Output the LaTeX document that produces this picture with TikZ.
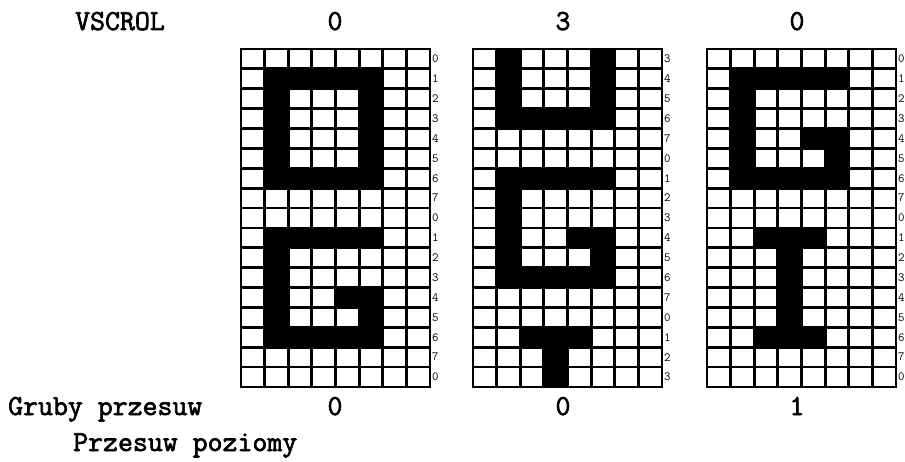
\documentclass[tikz,border=0pt]{standalone}
\usepackage{fontspec}
\newfontfamily\courb[FakeBold=2.2]{Latin Modern Mono}
\usetikzlibrary{positioning}
\def\cw{23.625}
\def\ch{19.88}
\def\gtop{49}
% one 8x17 pixel grid: #1 left edge, #2 row numbers, #3 black runs a/b/c/d
\newcommand{\pixgrid}[4]{%
  \fill (#1-1.2,\gtop-1.2) rectangle ({#1+8*\cw+1.2},{\gtop+17*\ch+1.2});
  \foreach \c in {0,...,7}
    \foreach \r in {0,...,16}
      \fill[white] ({#1+\c*\cw+1.4},{\gtop+\r*\ch+1.4}) rectangle ({#1+(\c+1)*\cw-1.4},{\gtop+(\r+1)*\ch-1.4});
  \foreach \a/\b/\cc/\d in {#3}
    \fill ({#1+\a*\cw},{\gtop+\b*\ch}) rectangle ({#1+(\cc+1)*\cw},{\gtop+(\d+1)*\ch});
  \foreach \l [count=\r from 0] in {#2}
    \node[rowlbl] (#4r\r) at ({#1+8*\cw+2},{\gtop+(\r+0.5)*\ch}) {\l};
}

\begin{document}
\begin{tikzpicture}[x=1pt,y=-1pt,
  bigtext/.style={font=\courb\fontsize{29}{29}\selectfont,inner sep=0pt},
  rowlbl/.style={font=\ttfamily\fontsize{12.5}{12.5}\selectfont,inner sep=0pt,anchor=west}]
\useasboundingbox (0,0) rectangle (905,462);

\pixgrid{241}{0,1,2,3,4,5,6,7,0,1,2,3,4,5,6,7,0}
  {1/1/5/1,1/2/1/5,5/2/5/5,1/6/5/6,1/9/5/9,1/10/1/14,2/14/5/14,4/12/5/12,5/13/5/13}{ga}
\pixgrid{473}{3,4,5,6,7,0,1,2,3,4,5,6,7,0,1,2,3}
  {1/0/1/3,5/0/5/3,2/3/4/3,1/6/5/6,1/7/1/11,2/11/5/11,4/9/5/9,5/10/5/10,2/14/4/14,3/15/3/16}{gb}
\pixgrid{707}{0,1,2,3,4,5,6,7,0,1,2,3,4,5,6,7,0}
  {1/1/5/1,1/2/1/6,2/6/5/6,4/4/5/4,5/5/5/5,2/9/4/9,3/10/3/13,2/14/4/14}{gc}

% top row
\node[bigtext,anchor=base west] (vscrol) at (75,30) {VSCROL};
\node[bigtext,anchor=base] (vsa) at (335,30) {0};
\node[bigtext,anchor=base] (vsb) at (563,30) {3};
\node[bigtext,anchor=base] (vsc) at (797,30) {0};

% bottom rows
\node[bigtext,anchor=base west] (gruby) at (8,415) {Gruby przesuw};
\node[bigtext,anchor=base] (gpa) at (335,415) {0};
\node[bigtext,anchor=base] (gpb) at (563,415) {0};
\node[bigtext,anchor=base] (gpc) at (797,415) {1};
\node[bigtext,anchor=base west] (poziomy) at (73,451) {Przesuw poziomy};
\end{tikzpicture}
\end{document}
